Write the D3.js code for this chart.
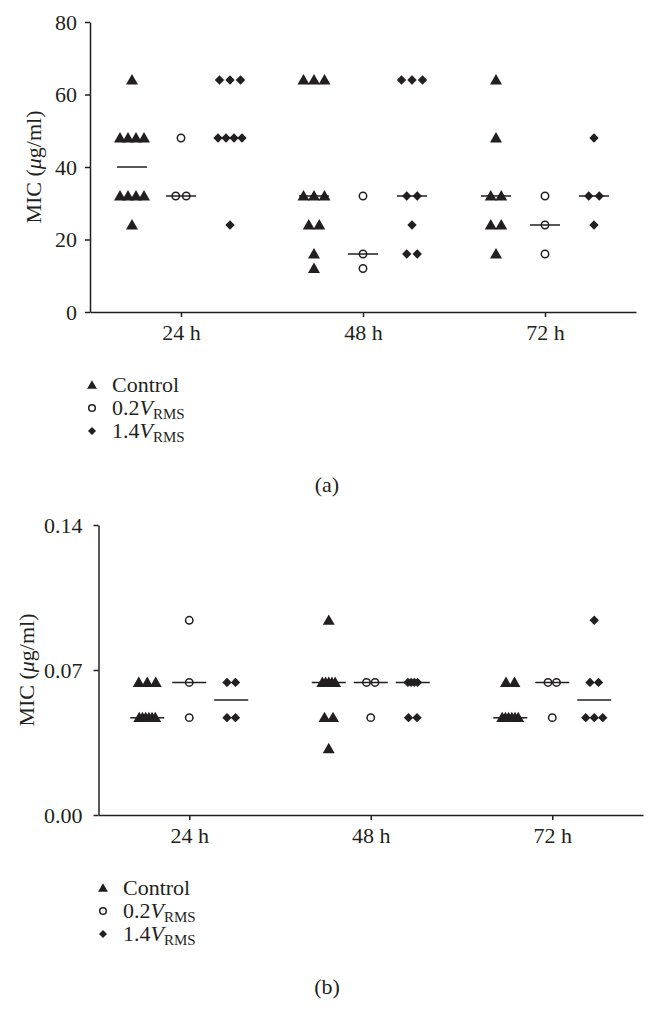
<!DOCTYPE html>
<html>
<head>
<meta charset="utf-8">
<script src="https://cdn.jsdelivr.net/npm/d3@7"></script>
<style>
  html, body { margin: 0; padding: 0; background: #fff; }
  svg { display: block; }
  text { font-family: "Liberation Serif", "DejaVu Serif", serif; fill: #231f20; }
</style>
</head>
<body>
<svg id="chart" width="658" height="1030"></svg>
<script>
// ---------- data ----------
const times = ["24 h", "48 h", "72 h"];
const seriesNames = ["Control", "0.2", "1.4"];
const ticksA = [0, 20, 40, 60, 80];
const ticksB = [0, 0.07, 0.14];

// Panel (a): MIC (µg/ml) per time point
const aControl = [[64, 48, 48, 48, 48, 32, 32, 32, 32, 24],
                  [64, 64, 64, 32, 32, 32, 24, 24, 16, 12],
                  [64, 48, 32, 32, 24, 24, 16]];
const aLow     = [[48, 32, 32], [32, 16, 12], [32, 24, 16]];
const aHigh    = [[64, 64, 64, 48, 48, 48, 48, 24],
                  [64, 64, 64, 32, 32, 24, 16, 16],
                  [48, 32, 32, 24]];

// Panel (b)
const bControl = [[0.064, 0.064, 0.064, 0.047, 0.047, 0.047, 0.047, 0.047, 0.047],
                  [0.094, 0.064, 0.064, 0.064, 0.064, 0.064, 0.047, 0.047, 0.032],
                  [0.064, 0.064, 0.047, 0.047, 0.047, 0.047, 0.047, 0.047]];
const bLow     = [[0.094, 0.064, 0.047], [0.064, 0.064, 0.047], [0.064, 0.064, 0.047]];
const bHigh    = [[0.064, 0.064, 0.047, 0.047],
                  [0.064, 0.064, 0.064, 0.064, 0.047, 0.047],
                  [0.094, 0.064, 0.064, 0.047, 0.047, 0.047]];

// ---------- drawing ----------
const svg = d3.select("#chart");
const ink = "#231f20";
const FS = 22;

const triPath = d3.symbol(d3.symbolTriangle).size(62)();
const diaPath = d3.symbol(d3.symbolSquare).size(44)();
const triLeg = d3.symbol(d3.symbolTriangle).size(42)();
const diaLeg = d3.symbol(d3.symbolSquare).size(32)();

function drawMarker(g, type, cx, cy, leg) {
  if (type === 0) {
    g.append("path").attr("d", leg ? triLeg : triPath).attr("transform", `translate(${cx},${cy + 1})`).attr("fill", ink);
  } else if (type === 1) {
    g.append("circle").attr("cx", cx).attr("cy", cy).attr("r", leg ? 3.3 : 3.7)
      .attr("fill", "#fff").attr("stroke", ink).attr("stroke-width", 1.5);
  } else {
    g.append("path").attr("d", leg ? diaLeg : diaPath).attr("transform", `translate(${cx},${cy}) rotate(45)`).attr("fill", ink);
  }
}

function panel(cfg) {
  const g = svg.append("g");
  const x = d3.scalePoint().domain(times).range(cfg.xr).padding(0.5);
  const y = d3.scaleLinear().domain(cfg.yd).range(cfg.yr);

  // axes
  const ya = g.append("g").attr("transform", `translate(${cfg.xr[0]},0)`)
    .call(d3.axisLeft(y).tickValues(cfg.ticks).tickFormat(cfg.fmt).tickSize(5).tickSizeOuter(0).tickPadding(cfg.tickPad));
  const xa = g.append("g").attr("transform", `translate(0,${cfg.yr[0]})`)
    .call(d3.axisBottom(x).tickSize(5).tickSizeOuter(0).tickPadding(7));
  [ya, xa].forEach(a => {
    a.selectAll("path,line").attr("stroke", ink).attr("stroke-width", 1.5);
    a.selectAll("text").attr("font-size", FS).attr("font-family", '"Liberation Serif", serif').attr("fill", ink);
  });
  // y title
  const ty = g.append("text")
    .attr("transform", `translate(${cfg.titleX},${(cfg.yr[0] + cfg.yr[1]) / 2}) rotate(-90)`)
    .attr("text-anchor", "middle").attr("font-size", FS);
  ty.append("tspan").text("MIC (");
  ty.append("tspan").attr("font-style", "italic").text("μ");
  ty.append("tspan").text("g/ml)");

  // points
  cfg.data.forEach((series, si) => {
    series.forEach((vals, ti) => {
      const cx0 = x(times[ti]) + cfg.offsets[si];
      const counts = d3.rollup(vals, v => v.length, d => d);
      counts.forEach((n, v) => {
        const sp = cfg.spread(n);
        for (let i = 0; i < n; i++) {
          drawMarker(g, si, cx0 + (i - (n - 1) / 2) * sp, y(v), false);
        }
      });
      const med = d3.median(vals);
      g.append("line")
        .attr("x1", cx0 - cfg.medW / 2).attr("x2", cx0 + cfg.medW / 2)
        .attr("y1", y(med)).attr("y2", y(med))
        .attr("stroke", ink).attr("stroke-width", 1.5);
    });
  });

  // legend
  seriesNames.forEach((name, i) => {
    const cy = cfg.legY + i * 23;
    drawMarker(g, i, cfg.legX, cy, true);
    const t = g.append("text").attr("x", cfg.legX + 20).attr("y", cy + 7).attr("font-size", FS);
    if (i === 0) {
      t.text(name);
    } else {
      t.append("tspan").text(name);
      t.append("tspan").attr("font-style", "italic").text("V");
      t.append("tspan").attr("font-size", 15).attr("dy", 4).text("RMS");
    }
  });

  // panel label
  svg.append("text").attr("x", 327).attr("y", cfg.labY).attr("text-anchor", "middle")
    .attr("font-size", FS).text(cfg.label);
}

panel({
  xr: [90, 636], yr: [312, 22], yd: [0, 80], ticks: ticksA, fmt: d3.format("d"),
  tickPad: 8, titleX: 41,
  data: [aControl, aLow, aHigh], offsets: [-49, 0, 49],
  spread: n => (n >= 4 ? 8 : 10.5), medW: 30,
  legX: 92, legY: 385, label: "(a)", labY: 492
});

panel({
  xr: [98.5, 643], yr: [815, 525], yd: [0, 0.14], ticks: ticksB, fmt: d3.format(".2f"),
  tickPad: 11, titleX: 34,
  data: [bControl, bLow, bHigh], offsets: [-42, 0, 42],
  spread: n => (n >= 4 ? 3.2 : 8.5), medW: 34,
  legX: 103, legY: 888, label: "(b)", labY: 994
});
</script>
</body>
</html>
